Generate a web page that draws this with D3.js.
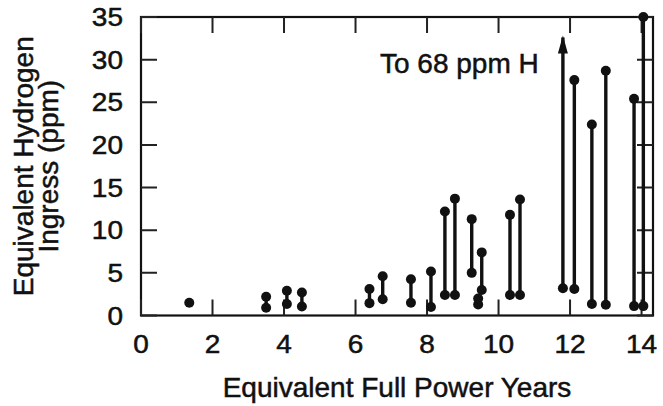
<!DOCTYPE html>
<html>
<head>
<meta charset="utf-8">
<script src="https://cdn.jsdelivr.net/npm/d3@7"></script>
<style>
    body { margin: 0; background: #fff; }
    svg { display: block; font-family: "Liberation Sans", Arial, Helvetica, sans-serif; }
    text { fill: #111; stroke: #111; stroke-width: 0.5px; }
</style>
</head>
<body>
<svg id="chart"></svg>
<script>
// Data: each sample is a low/high pair at one EFPY value
const years = [1.35, 3.50, 4.08, 4.50, 6.39, 6.76, 7.55, 8.11, 8.50, 8.78, 9.25, 9.43, 9.53, 10.32, 10.60, 11.80, 12.12, 12.61, 13.00, 13.79, 14.05];
const lowH  = [1.5, 0.9, 1.35, 1.05, 1.45, 1.9, 1.5, 1.0, 2.4, 2.4, 5.0, 1.3, 3.0, 2.4, 2.4, 3.2, 3.1, 1.35, 1.25, 1.1, 1.1];
const highH = [1.5, 2.2, 2.9, 2.7, 3.1, 4.6, 4.25, 5.15, 12.2, 13.7, 11.3, 2.0, 7.4, 11.8, 13.6, 68, 27.6, 22.4, 28.7, 25.4, 35];
const xTicks = [0, 2, 4, 6, 8, 10, 12, 14];
const yTicks = [0, 5, 10, 15, 20, 25, 30, 35];
const arrowTop = 32.6; // off-scale value (68 ppm) drawn as an arrow

const width = 663;
const height = 406;
const margin = { top: 17, right: 10, bottom: 90, left: 141 };

const svg = d3.select('#chart')
    .attr('width', width)
    .attr('height', height);

const x = d3.scaleLinear()
    .domain([0, 14.32])
    .range([margin.left, width - margin.right]);

const y = d3.scaleLinear()
    .domain([0, 35])
    .range([height - margin.bottom - 0.5, margin.top]);

const x0 = x.range()[0], x1 = x.range()[1];
const y0 = y.range()[0], y1 = y.range()[1];
const tickLen = 16;

// frame
svg.append('rect')
    .attr('x', x0)
    .attr('y', y1)
    .attr('width', x1 - x0)
    .attr('height', y0 - y1)
    .attr('fill', 'none')
    .attr('stroke', '#111')
    .attr('stroke-width', 2.2);

// inward ticks on all four sides, built as one path
const tickSegs = [];
xTicks.forEach(t => {
    tickSegs.push([x(t), y0, x(t), y0 - tickLen]);
    tickSegs.push([x(t), y1, x(t), y1 + tickLen]);
});
yTicks.forEach(t => {
    tickSegs.push([x0, y(t), x0 + tickLen, y(t)]);
    tickSegs.push([x1, y(t), x1 - tickLen, y(t)]);
});
svg.append('path')
    .attr('d', tickSegs.map(s => `M${s[0]},${s[1]}L${s[2]},${s[3]}`).join(''))
    .attr('fill', 'none')
    .attr('stroke', '#222')
    .attr('stroke-width', 2);

// tick labels (slightly wide digits, as in the scan)
svg.append('g')
    .selectAll('text')
    .data(xTicks)
    .enter()
    .append('text')
    .attr('transform', d => `translate(${x(d)},${y0 + 37}) scale(1.12,1)`)
    .attr('text-anchor', 'middle')
    .style('font-size', '25px')
    .text(d => d);

svg.append('g')
    .selectAll('text')
    .data(yTicks)
    .enter()
    .append('text')
    .attr('transform', d => `translate(${x0 - 18},${y(d) + 9}) scale(1.12,1)`)
    .attr('text-anchor', 'end')
    .style('font-size', '25px')
    .text(d => d);

// axis titles
svg.append('text')
    .attr('x', (x0 + x1) / 2)
    .attr('y', 397)
    .attr('text-anchor', 'middle')
    .style('font-size', '28px')
    .text('Equivalent Full Power Years');

const yTitle = svg.append('text')
    .attr('transform', `translate(33,${(y0 + y1) / 2}) rotate(-90)`)
    .attr('text-anchor', 'middle')
    .style('font-size', '28px');
yTitle.append('tspan').attr('x', 0).attr('y', 0).text('Equivalent Hydrogen');
yTitle.append('tspan').attr('x', 0).attr('y', 25).text('Ingress (ppm)');

// dumbbells
const data = years.map((yr, i) => ({ yr, lo: lowH[i], hi: highH[i] }));
const marks = svg.append('g');

marks.selectAll('.seg')
    .data(data.filter(d => d.hi > d.lo))
    .enter()
    .append('line')
    .attr('class', 'seg')
    .attr('x1', d => x(d.yr))
    .attr('x2', d => x(d.yr))
    .attr('y1', d => y(d.lo))
    .attr('y2', d => y(d.hi > 35 ? arrowTop : d.hi))
    .attr('stroke', '#111')
    .attr('stroke-width', 3.4);

const dots = [];
data.forEach(d => {
    dots.push({ yr: d.yr, v: d.lo });
    if (d.hi !== d.lo && d.hi <= 35) dots.push({ yr: d.yr, v: d.hi });
});

marks.selectAll('.dot')
    .data(dots)
    .enter()
    .append('circle')
    .attr('class', 'dot')
    .attr('cx', d => x(d.yr))
    .attr('cy', d => y(d.v))
    .attr('r', 5)
    .attr('fill', '#111');

// arrowhead for the off-scale sample
data.filter(d => d.hi > 35).forEach(d => {
    const ax = x(d.yr), ay = y(arrowTop);
    marks.append('path')
        .attr('d', `M${ax},${ay - 2} L${ax - 5},${ay + 16} L${ax + 5},${ay + 16} Z`)
        .attr('fill', '#111');
    svg.append('text')
        .attr('x', 380)
        .attr('y', 73)
        .style('font-size', '28px')
        .text('To 68 ppm H');
});
</script>
</body>
</html>
